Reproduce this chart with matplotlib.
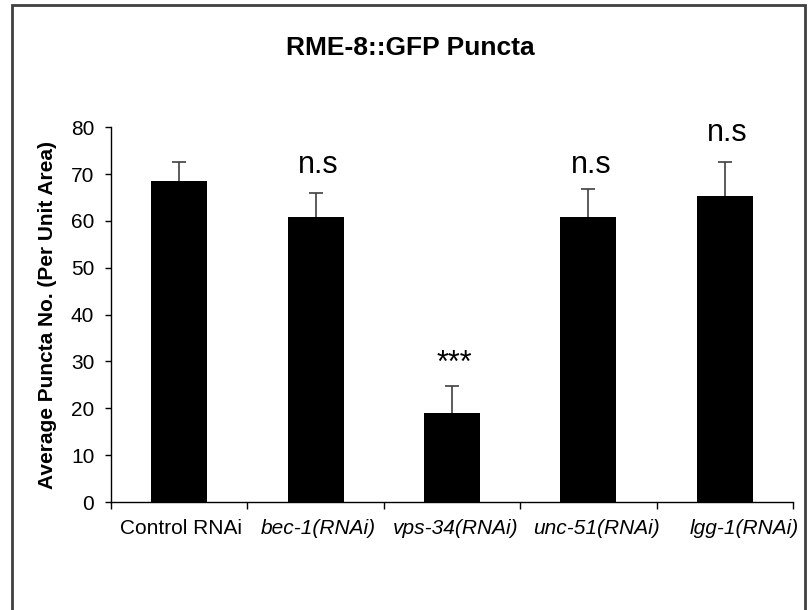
import matplotlib
matplotlib.use("Agg")
import matplotlib.pyplot as plt
import matplotlib.transforms as mtransforms
from matplotlib.patches import Rectangle

plt.rcParams['font.family'] = ['Liberation Sans', 'DejaVu Sans']

categories = ['Control RNAi', 'bec-1(RNAi)', 'vps-34(RNAi)', 'unc-51(RNAi)', 'lgg-1(RNAi)']
italic = [False, True, True, True, True]
means = [68.6, 60.8, 19.1, 60.8, 65.3]
errors = [4.0, 5.2, 5.7, 6.0, 7.3]
marks = ['', 'n.s', '***', 'n.s', 'n.s']
mark_y = [0, 70.2, 27.8, 70.2, 77.0]
yticks = [0, 10, 20, 30, 40, 50, 60, 70, 80]

W, H = 808, 610
fig = plt.figure(figsize=(W / 100, H / 100), dpi=100)
ax = fig.add_axes([111 / W, 1 - 502 / H, (793 - 111) / W, (502 - 127.3) / H])

x = list(range(len(categories)))
ax.errorbar(x, means, yerr=errors, fmt='none', ecolor='#404040',
            elinewidth=1.2, capsize=5, capthick=1.2, zorder=1)
ax.bar(x, means, width=0.41, color='black', zorder=2)

for i, m in enumerate(marks):
    if m:
        ax.text(i + 0.02, mark_y[i], m, ha='center', va='baseline', fontsize=22)

ax.set_xlim(-0.5, len(categories) - 0.5)
ax.set_ylim(0, 80)
ax.set_yticks(yticks)
ax.tick_params(axis='y', labelsize=15, length=4.5, width=1, pad=7.5)

# ticks at the category boundaries, labels at the centres
ax.set_xticks([i - 0.5 for i in range(len(categories) + 1)])
ax.set_xticklabels([])
ax.tick_params(axis='x', which='major', length=5, width=1)
ax.set_xticks(x, minor=True)
ax.set_xticklabels(categories, minor=True)
ax.tick_params(axis='x', which='minor', length=0, pad=12, labelsize=15)
# the labels in the original drift a little to the right
shift_px = [2, 3, 4, 8, 19]
for lab, it, dx in zip(ax.get_xticklabels(minor=True), italic, shift_px):
    if it:
        lab.set_style('italic')
    lab.set_transform(lab.get_transform() +
                      mtransforms.ScaledTranslation(dx / 100, 0, fig.dpi_scale_trans))

for s in ['top', 'right']:
    ax.spines[s].set_visible(False)
for s in ['left', 'bottom']:
    ax.spines[s].set_linewidth(1)

ax.set_ylabel('Average Puncta No. (Per Unit Area)', fontsize=15, fontweight='bold')
ax.yaxis.set_label_coords(-0.079, 0.5)

fig.text(410 / W, 1 - 55 / H, 'RME-8::GFP Puncta', ha='center', va='baseline',
         fontsize=19, fontweight='bold')

# outer frame around the whole chart
fig.patches.append(Rectangle((11.5 / W, -0.05), (805 - 11.5) / W, 1.05 - 5 / H,
                             transform=fig.transFigure, fill=False,
                             edgecolor='#404040', linewidth=2, clip_on=False))

fig.savefig('out.png', dpi=100)
